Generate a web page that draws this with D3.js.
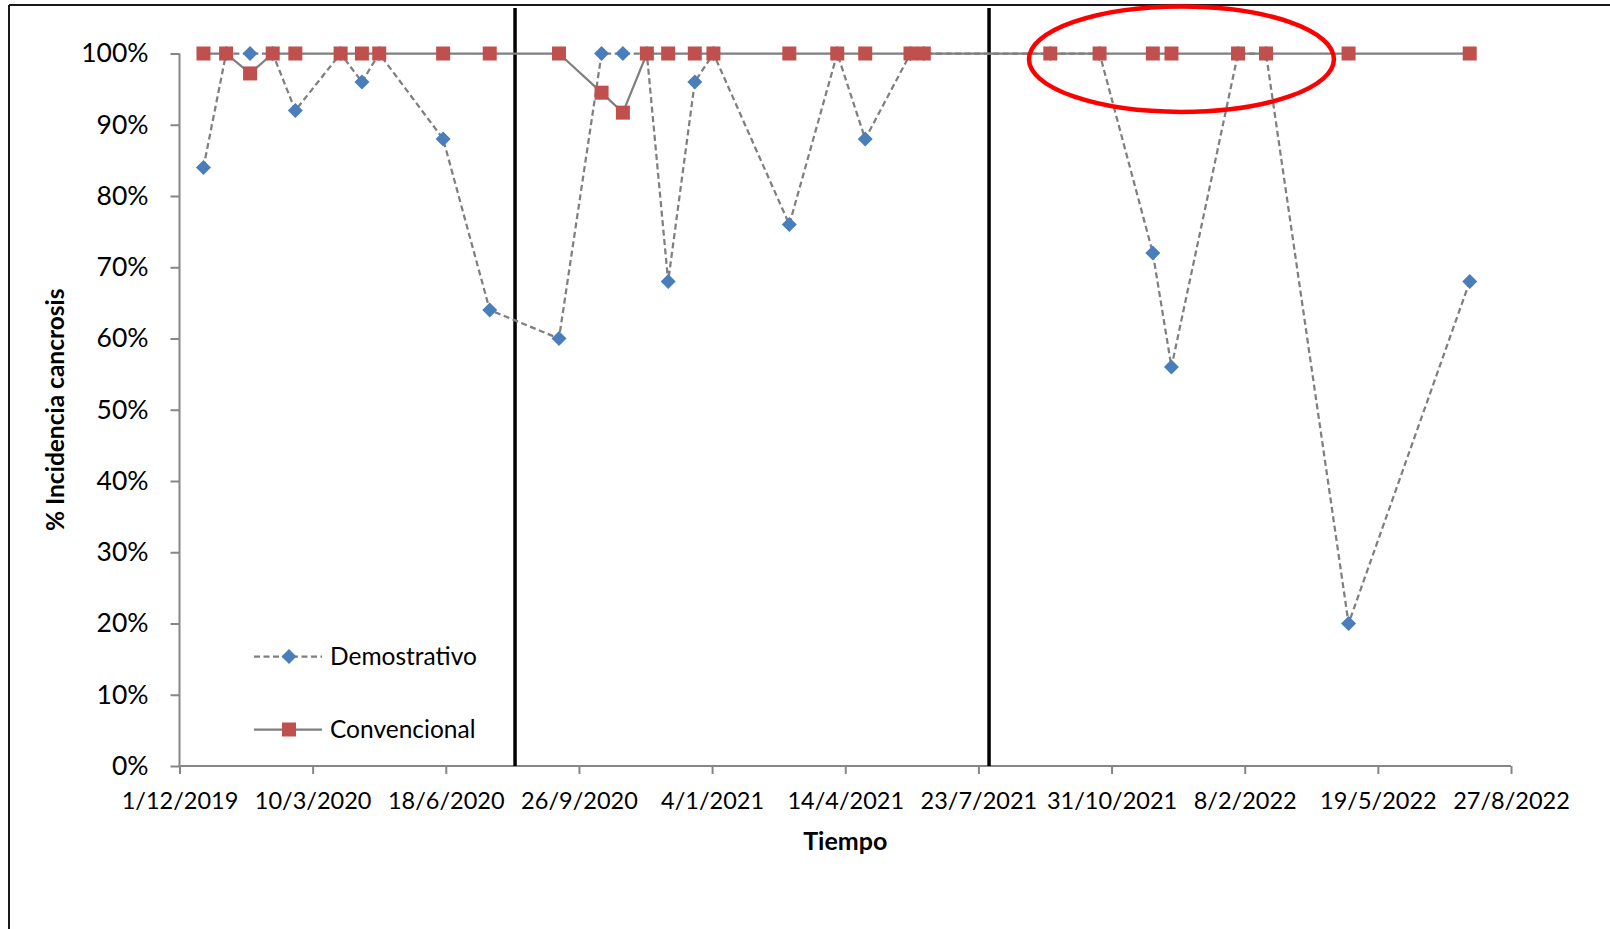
<!DOCTYPE html>
<html>
<head>
<meta charset="utf-8">
<script src="https://cdn.jsdelivr.net/npm/d3@7"></script>
<style>
  html, body { margin: 0; padding: 0; background: #ffffff; }
  svg { display: block; }
  text { font-family: Lato, "Open Sans", sans-serif; fill: #000; }
</style>
</head>
<body>
<svg id="chart" width="1610" height="929"></svg>
<script>
// ---------------- DATA ----------------
const dates = [
  "2019-12-19","2020-01-05","2020-01-23","2020-02-09","2020-02-26","2020-03-31","2020-04-16","2020-04-29","2020-06-16","2020-07-21",
  "2020-09-11","2020-10-13","2020-10-29","2020-11-16","2020-12-02","2020-12-22","2021-01-05","2021-03-03","2021-04-08","2021-04-29","2021-06-02","2021-06-12",
  "2021-09-15","2021-10-22","2021-12-01","2021-12-15","2022-02-03","2022-02-24","2022-04-27","2022-07-27"
];
const demostrativo = [
  0.84, 1.00, 1.00, 1.00, 0.92, 1.00, 0.96, 1.00, 0.88, 0.64,
  0.60, 1.00, 1.00, 1.00, 0.68, 0.96, 1.00, 0.76, 1.00, 0.88, 1.00, 1.00,
  1.00, 1.00, 0.72, 0.56, 1.00, 1.00, 0.20, 0.68
];
const convencional = [
  1.00, 1.00, 0.972, 1.00, 1.00, 1.00, 1.00, 1.00, 1.00, 1.00,
  1.00, 0.945, 0.917, 1.00, 1.00, 1.00, 1.00, 1.00, 1.00, 1.00, 1.00, 1.00,
  1.00, 1.00, 1.00, 1.00, 1.00, 1.00, 1.00, 1.00
];
const seriesNames = ["Demostrativo", "Convencional"];
const xTickLabels = ["1/12/2019","10/3/2020","18/6/2020","26/9/2020","4/1/2021","14/4/2021","23/7/2021","31/10/2021","8/2/2022","19/5/2022","27/8/2022"];
const yTickValues = [0, 0.1, 0.2, 0.3, 0.4, 0.5, 0.6, 0.7, 0.8, 0.9, 1.0];
const separatorDates = ["2020-08-09", "2021-07-31"];
// highlighted region (ellipse annotation): date span and value span
const highlightDates = ["2021-08-30", "2022-04-16"];
const highlightValues = [0.918, 1.066];
const xTitle = "Tiempo";
const yTitle = "% Incidencia cancrosis";

// ---------------- SETUP ----------------
const parseISO = d3.utcParse("%Y-%m-%d");
const parseTick = d3.utcParse("%d/%m/%Y");
const fmtTick = d3.utcFormat("%-d/%-m/%Y");

const svg = d3.select("#chart");
const W = 1610, H = 929;
const plot = { left: 179.5, right: 1511, top: 53.5, bottom: 766 };

const tickDates = xTickLabels.map(parseTick);
const x = d3.scaleUtc()
  .domain([tickDates[0], tickDates[tickDates.length - 1]])
  .range([plot.left, plot.right]);
const y = d3.scaleLinear().domain([0, 1]).range([plot.bottom, plot.top]);

const data = dates.map((d, i) => ({
  date: parseISO(d), demo: demostrativo[i], conv: convencional[i]
}));

// frame (left and top edges of the chart area border)
svg.append("line").attr("x1", 9).attr("x2", 9).attr("y1", 5).attr("y2", H)
  .attr("stroke", "#1a1a1a").attr("stroke-width", 2);
svg.append("line").attr("x1", 9).attr("x2", W).attr("y1", 5).attr("y2", 5)
  .attr("stroke", "#1a1a1a").attr("stroke-width", 2);

// ---------------- AXES ----------------
const axisColor = "#868686";
const yAxis = svg.append("g")
  .attr("transform", `translate(${plot.left},0)`)
  .call(d3.axisLeft(y).tickValues(yTickValues).tickFormat(d3.format(".0%")).tickSize(9).tickPadding(22));
yAxis.selectAll(".domain").attr("stroke", axisColor).attr("stroke-width", 2).attr("d", `M0,${plot.bottom}V${plot.top}`);
yAxis.selectAll(".tick line").attr("stroke", axisColor).attr("stroke-width", 2);
yAxis.selectAll(".tick text").attr("font-size", 26.5).attr("font-family", "Lato, sans-serif").attr("fill", "#000");

const xAxis = svg.append("g")
  .attr("transform", `translate(0,${plot.bottom})`)
  .call(d3.axisBottom(x).tickValues(tickDates).tickFormat(fmtTick).tickSize(8).tickPadding(18));
xAxis.selectAll(".domain").attr("stroke", axisColor).attr("stroke-width", 2).attr("d", `M${plot.left},0H${plot.right}`);
xAxis.selectAll(".tick line").attr("stroke", axisColor).attr("stroke-width", 2);
xAxis.selectAll(".tick text").attr("font-size", 23.5).attr("font-family", "Lato, sans-serif").attr("fill", "#000");

// axis titles
svg.append("text")
  .attr("x", (plot.left + plot.right) / 2).attr("y", 850)
  .attr("text-anchor", "middle").attr("font-size", 25).attr("font-weight", "bold")
  .text(xTitle);
svg.append("text")
  .attr("transform", `translate(64,${(plot.top + plot.bottom) / 2}) rotate(-90)`)
  .attr("text-anchor", "middle").attr("font-size", 24.5).attr("font-weight", "bold")
  .text(yTitle);

// ---------------- SEPARATORS ----------------
svg.append("g").selectAll("line").data(separatorDates.map(parseISO)).join("line")
  .attr("x1", d => x(d)).attr("x2", d => x(d))
  .attr("y1", 8).attr("y2", plot.bottom)
  .attr("stroke", "#000").attr("stroke-width", 3.5);

// ---------------- SERIES ----------------
const lineColor = "#7f7f7f";
const blue = "#4a7ebb", red = "#c0504d";

const lineDemo = d3.line().x(d => x(d.date)).y(d => y(d.demo));
const lineConv = d3.line().x(d => x(d.date)).y(d => y(d.conv));

const diamond = s => `M0,${-s}L${s},0L0,${s}L${-s},0Z`;

// Demostrativo
svg.append("path").datum(data).attr("d", lineDemo)
  .attr("fill", "none").attr("stroke", lineColor).attr("stroke-width", 2.25)
  .attr("stroke-dasharray", "6,3.5");
svg.append("g").selectAll("path").data(data).join("path")
  .attr("transform", d => `translate(${x(d.date)},${y(d.demo)})`)
  .attr("d", diamond(7.5)).attr("fill", blue);

// Convencional
svg.append("path").datum(data).attr("d", lineConv)
  .attr("fill", "none").attr("stroke", lineColor).attr("stroke-width", 2.25);
svg.append("g").selectAll("rect").data(data).join("rect")
  .attr("x", d => x(d.date) - 7).attr("y", d => y(d.conv) - 7)
  .attr("width", 14).attr("height", 14).attr("fill", red);

// ---------------- ANNOTATION ELLIPSE ----------------
const hx0 = x(parseISO(highlightDates[0])), hx1 = x(parseISO(highlightDates[1]));
const hy0 = y(highlightValues[1]), hy1 = y(highlightValues[0]);
svg.append("ellipse")
  .attr("cx", (hx0 + hx1) / 2).attr("cy", (hy0 + hy1) / 2)
  .attr("rx", (hx1 - hx0) / 2).attr("ry", (hy1 - hy0) / 2)
  .attr("fill", "none").attr("stroke", "#ff0000").attr("stroke-width", 4.5);

// ---------------- LEGEND ----------------
const legend = svg.append("g");
const legendY = [656.5, 729.5];
seriesNames.forEach((name, i) => {
  const g = legend.append("g").attr("transform", `translate(0,${legendY[i]})`);
  g.append("line").attr("x1", 254).attr("x2", 322).attr("y1", 0).attr("y2", 0)
    .attr("stroke", lineColor).attr("stroke-width", 2.25)
    .attr("stroke-dasharray", i === 0 ? "6,3.5" : null);
  if (i === 0) {
    g.append("path").attr("transform", "translate(289,0)").attr("d", diamond(7.5)).attr("fill", blue);
  } else {
    g.append("rect").attr("x", 282).attr("y", -7).attr("width", 14).attr("height", 14).attr("fill", red);
  }
  g.append("text").attr("x", 330).attr("y", 8.5).attr("font-size", 24.5).text(name);
});
</script>
</body>
</html>
